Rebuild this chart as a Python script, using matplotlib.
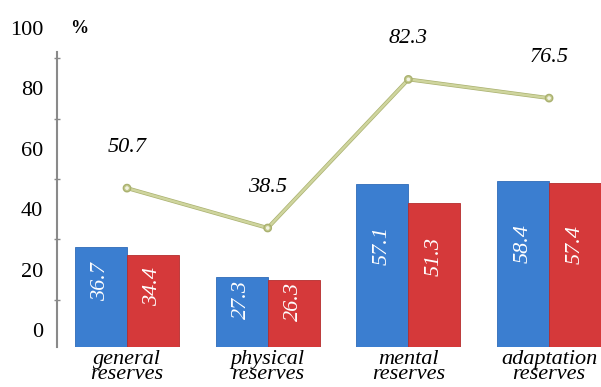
import matplotlib
matplotlib.use("Agg")
import matplotlib.pyplot as plt
import matplotlib.patheffects as pe
import numpy as np

categories = ["general\nreserves", "physical\nreserves", "mental\nreserves", "adaptation\nreserves"]
blue_heights = [27.6, 17.5, 48.2, 49.2]
red_heights = [25.0, 16.6, 42.1, 48.7]
blue_labels = ["36.7", "27.3", "57.1", "58.4"]
red_labels = ["34.4", "26.3", "51.3", "57.4"]
line_values = [47.0, 33.8, 83.0, 76.8]
line_labels = ["50.7", "38.5", "82.3", "76.5"]

serif = ["Liberation Serif", "DejaVu Serif"]
base = -5.6
w = 0.37

fig = plt.figure(figsize=(6.01, 3.87), dpi=100)
ax = fig.add_axes([57 / 601, 40 / 387, 544 / 601, 323.5 / 387])
x = np.arange(len(categories))

ax.bar(x - w / 2, np.array(blue_heights) - base, w, bottom=base, color="#3b7ed0", edgecolor="#2f6bb8", linewidth=0.6, zorder=2)
ax.bar(x + w / 2, np.array(red_heights) - base, w, bottom=base, color="#d5393a", edgecolor="#b52c2c", linewidth=0.6, zorder=2)

for i in range(len(x)):
    ax.text(x[i] - w / 2, blue_heights[i] * 0.58, blue_labels[i], rotation=90, color="white", ha="center", va="center",
            fontsize=16, style="italic", family=serif, zorder=4)
    ax.text(x[i] + w / 2, red_heights[i] * 0.58, red_labels[i], rotation=90, color="white", ha="center", va="center",
            fontsize=16, style="italic", family=serif, zorder=4)

ax.plot(x, line_values, color="#cfd59e", linewidth=1.8, marker="o", markersize=3.5, markerfacecolor="#f2f3e2",
        markeredgecolor="#c3c98c", markeredgewidth=0.8, zorder=3,
        path_effects=[pe.Stroke(linewidth=2.8, foreground="#aab170"), pe.Normal()])
for i in range(len(x)):
    ax.text(x[i], line_values[i] + 13.5, line_labels[i], ha="center", va="center", fontsize=16, style="italic",
            family=serif)

ax.set_xlim(-0.4975, 3.369)
ax.set_ylim(base, 101.5)
for s in ["top", "right", "bottom"]:
    ax.spines[s].set_visible(False)
ax.spines["left"].set_bounds(base, 92)
ax.spines["left"].set_color("#8a8a8a")
ax.spines["left"].set_linewidth(1.5)

ax.set_yticks(range(0, 101, 20))
ax.set_yticklabels([str(v) for v in range(0, 101, 20)], family=serif, fontsize=16)
ax.set_yticks(range(0, 91, 10), minor=True)
ax.tick_params(axis="y", which="major", length=0, pad=10)
ax.tick_params(axis="y", which="minor", length=5, direction="inout", color="#8a8a8a", width=1)

ax.set_xticks(x)
ax.set_xticklabels(categories, family=serif, fontsize=16, style="italic", linespacing=0.72)
ax.tick_params(axis="x", length=0, pad=2)

ax.text(24 / 601, 100, "%", transform=ax.get_yaxis_transform(), fontsize=13, fontweight="bold",
        family=serif, ha="center", va="center")

fig.savefig("out.png", dpi=100)
